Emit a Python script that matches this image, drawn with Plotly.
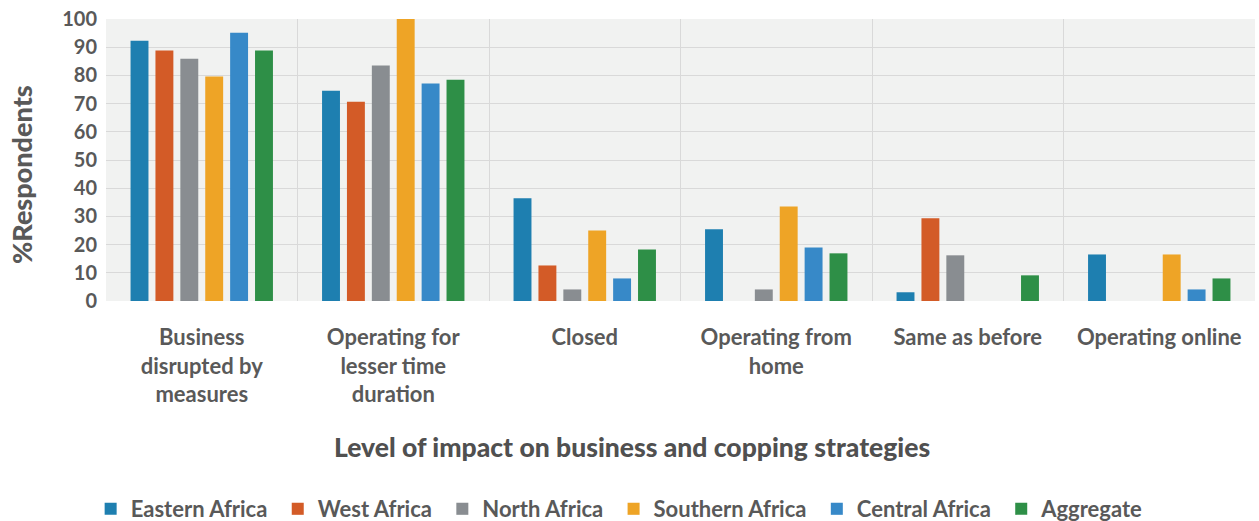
import plotly.graph_objects as go

categories = [
    "Business<br>disrupted by<br>measures",
    "Operating for<br>lesser time<br>duration",
    "Closed",
    "Operating from<br>home",
    "Same as before",
    "Operating online",
]

regions = ["Eastern Africa", "West Africa", "North Africa", "Southern Africa", "Central Africa", "Aggregate"]

eastern_africa = [92.3, 74.6, 36.4, 25.4, 3.1, 16.5]
west_africa = [88.8, 70.7, 12.6, 0, 29.3, 0]
north_africa = [85.9, 83.5, 4.1, 4.1, 16.2, 0]
southern_africa = [79.6, 100, 25.0, 33.5, 0, 16.5]
central_africa = [95.1, 77.1, 8.0, 19.0, 0, 4.1]
aggregate = [88.8, 78.5, 18.3, 16.9, 9.1, 8.0]

series = [eastern_africa, west_africa, north_africa, southern_africa, central_africa, aggregate]
colors = ["#1e7fb0", "#d35b27", "#898d91", "#eea426", "#3789c8", "#2e8f47"]

y_ticks = list(range(0, 101, 10))

FONT = "Lato"
TEXT = "#595959"
PAD = "\u00a0"  # extra room between legend entries

fig = go.Figure()
for name, vals, col in zip(regions, series, colors):
    fig.add_trace(go.Bar(name=name + PAD, x=categories, y=vals,
                         marker=dict(color=col, line=dict(width=0))))

fig.update_layout(
    width=1259,
    height=521,
    barmode="group",
    bargap=0.22,
    bargroupgap=0.28,
    paper_bgcolor="white",
    plot_bgcolor="#f1f2f1",
    margin=dict(l=106, r=4, t=19, b=220, autoexpand=False),
    font=dict(family=FONT, color=TEXT, size=18),
    showlegend=True,
    legend=dict(
        orientation="h",
        xref="container",
        yref="container",
        x=0.072,
        xanchor="left",
        y=0.023,
        yanchor="middle",
        font=dict(family=FONT, size=22, color=TEXT, weight="bold"),
        itemsizing="constant",
        traceorder="normal",
    ),
    xaxis=dict(
        type="category",
        tickson="boundaries",
        showgrid=True,
        gridcolor="#d9d9d9",
        gridwidth=1,
        ticks="",
        ticklabelstandoff=21,
        tickfont=dict(family=FONT, size=22, color=TEXT, weight="bold"),
        showline=False,
        zeroline=False,
    ),
    yaxis=dict(
        range=[0, 100],
        tickvals=y_ticks,
        showgrid=True,
        gridcolor="#d9d9d9",
        gridwidth=1,
        zeroline=False,
        showline=False,
        tickfont=dict(family=FONT, size=20, color=TEXT, weight="bold"),
        ticks="outside",
        ticklen=4,
        tickcolor="rgba(0,0,0,0)",
    ),
    annotations=[
        dict(
            text="Level of impact on business and copping strategies",
            xref="paper", yref="paper", x=0.458, y=-0.518,
            xanchor="center", yanchor="middle", showarrow=False,
            font=dict(family=FONT, size=26.5, color="#505050", weight=900),
        ),
        dict(
            text="%Respondents",
            xref="paper", yref="paper", x=-0.073, y=0.447,
            xanchor="center", yanchor="middle", textangle=-90, showarrow=False,
            font=dict(family=FONT, size=27, color=TEXT, weight=900),
        ),
    ],
)

fig.write_html("out.html")
